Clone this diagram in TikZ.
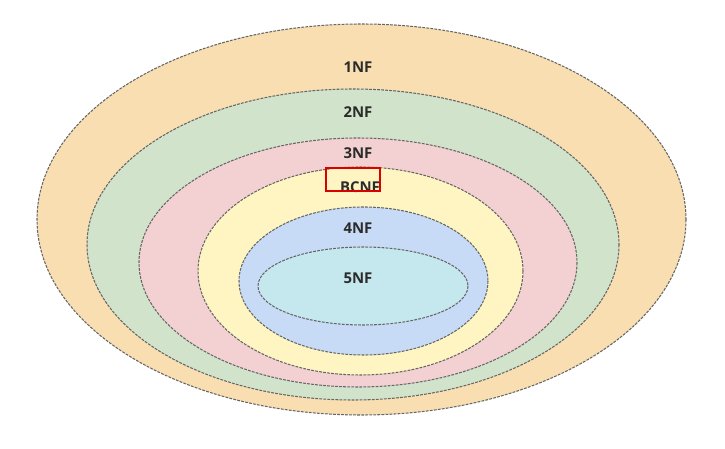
\documentclass[tikz,border=0pt]{standalone}
\usepackage{fontspec}
\setmainfont{Open Sans}
\usetikzlibrary{positioning}

\definecolor{nfone}{HTML}{F8DEB0}
\definecolor{nftwo}{HTML}{D2E3CC}
\definecolor{nfthree}{HTML}{F3D1D3}
\definecolor{nfbc}{HTML}{FEF5C3}
\definecolor{nffour}{HTML}{C7DBF7}
\definecolor{nffive}{HTML}{C5E7EE}
\definecolor{nftext}{HTML}{2B2B2B}

\begin{document}
\begin{tikzpicture}[x=0.02cm,y=-0.02cm,
  ring/.style={draw=black!60,line width=0.6pt,dash pattern=on 1.6pt off 0.7pt},
  nflabel/.style={text=nftext,font=\fontsize{8.5}{10}\selectfont\bfseries,inner sep=0pt}]
\useasboundingbox (0,0) rectangle (725,449);
%rings, outer to inner
\draw[ring,fill=nfone] (361.5,219.5) ellipse [x radius=324.5,y radius=195.5];
\draw[ring,fill=nftwo] (353,244.5) ellipse [x radius=266,y radius=155.5];
\draw[ring,fill=nfthree] (358,262.5) ellipse [x radius=219,y radius=124.5];
\draw[ring,fill=nfbc] (360.5,271) ellipse [x radius=162.5,y radius=104];
\draw[ring,fill=nffour] (363.5,281) ellipse [x radius=124.5,y radius=74];
\draw[ring,fill=nffive] (363,286) ellipse [x radius=105,y radius=39];
%labels
\node[nflabel] (one) at (358,67) {1NF};
\node[nflabel] (two) at (358,112) {2NF};
\node[nflabel] (three) at (358,153) {3NF};
\node[nflabel] (bc) at (360,187) {BCNF};
\node[nflabel] (four) at (358,228) {4NF};
\node[nflabel] (five) at (358,278) {5NF};
%red mark
\draw[red!85!black,line width=0.9pt] (326,168) rectangle (380,191);
\end{tikzpicture}
\end{document}
